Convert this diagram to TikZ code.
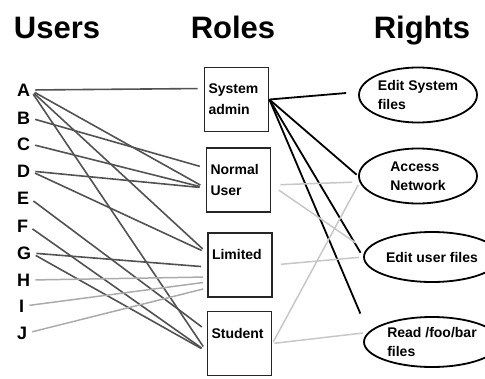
\documentclass[tikz,border=0pt]{standalone}
\usepackage{fontspec}
\setmainfont{Liberation Sans}
\usepackage{tikz}
\usetikzlibrary{shapes.geometric, positioning}
\tikzstyle{headline} = [font=\bfseries\fontsize{31}{31}\selectfont, anchor=base, inner sep=0pt]
\tikzstyle{userletter} = [font=\bfseries\fontsize{18}{18}\selectfont, anchor=west, inner sep=0pt]
\tikzstyle{rolebox} = [rectangle, minimum width=64pt, minimum height=64pt, text width=56pt, inner xsep=4pt, align=left, draw=black!85, line width=1.8pt, font=\bfseries\fontsize{14}{21}\selectfont]
\tikzstyle{rightoval} = [ellipse, minimum width=118pt, minimum height=55pt, inner sep=1.5pt, align=left, draw=black, line width=1.8pt, font=\bfseries\fontsize{14}{19}\selectfont]
\tikzstyle{userlink} = [line width=1.6pt, draw=black!68, shorten <=5pt, shorten >=6pt]
\tikzstyle{guestlink} = [line width=1.5pt, draw=black!33, shorten <=5pt, shorten >=4pt]
\tikzstyle{adminlink} = [line width=1.8pt, draw=black]
\tikzstyle{greylink} = [line width=1.5pt, draw=black!22]
\begin{document}
\begin{tikzpicture}[x=1pt, y=-1pt]
        \useasboundingbox (0,0) rectangle (485,378);
        \clip (0,0) rectangle (485,378);

        \node (usershead) [headline] at (57,38) {Users};
        \node (roleshead) [headline] at (233,38) {Roles};
        \node (rightshead) [headline] at (422,38) {Rights};

        \node (A) [userletter] at (17,90) {A};
        \node (B) [userletter] at (17,118) {B};
        \node (C) [userletter] at (17,144) {C};
        \node (D) [userletter] at (17,171) {D};
        \node (E) [userletter] at (17,198) {E};
        \node (F) [userletter] at (17,226) {F};
        \node (G) [userletter] at (17,253) {G};
        \node (H) [userletter] at (17,280) {H};
        \node (I) [userletter] at (19,306) {I};
        \node (J) [userletter] at (17,333) {J};

        \node (sysadmin) [rolebox] at (236.5,99.5) {System\\admin};
        \node (normaluser) [rolebox] at (238.5,180) {Normal\\User};
        \node (limited) [rolebox] at (240,265) {Limited\\~};
        \node (student) [rolebox] at (239.5,343.5) {Student\\~};

        \node (editsys) [rightoval] at (418,95) {Edit System\\files};
        \node (access) [rightoval] at (418,176) {Access\\Network};
        \node (edituser) [rightoval, minimum width=136pt, minimum height=50pt] at (432,257) {Edit user files};
        \node (readfoo) [rightoval, minimum width=136pt, minimum height=50pt] at (432,342) {Read /foo/bar\\files};

        \draw [userlink] (A.east) -- ([yshift=11pt]sysadmin.west);
        \draw [userlink] (A.east) -- ([yshift=-8pt]normaluser.west);
        \draw [userlink] (A.east) -- ([yshift=12pt]limited.west);
        \draw [userlink] (A.east) -- ([yshift=-8pt]student.west);
        \draw [userlink] (B.east) -- ([yshift=12pt]normaluser.west);
        \draw [userlink] (C.east) -- ([yshift=-8pt]normaluser.west);
        \draw [userlink] (D.east) -- ([yshift=-8pt]normaluser.west);
        \draw [userlink] (D.east) -- ([yshift=12pt]limited.west);
        \draw [userlink] (E.east) -- ([yshift=13pt]student.west);
        \draw [userlink] (F.east) -- ([yshift=-8pt]student.west);
        \draw [userlink] (G.east) -- ([yshift=-2pt]limited.west);
        \draw [userlink] (G.east) -- ([yshift=-8pt]student.west);
        \draw [guestlink] (H.east) -- ([yshift=-12pt]limited.west);
        \draw [guestlink] (I.east) -- ([yshift=-17pt]limited.west);
        \draw [guestlink] (J.east) -- ([yshift=-23pt]limited.west);

        \draw [adminlink, shorten >=12pt] (sysadmin.east) -- ([yshift=3pt]editsys.west);
        \draw [adminlink, shorten >=2pt] (sysadmin.east) -- (access.west);
        \draw [adminlink, shorten >=5pt] (sysadmin.east) -- (edituser.west);
        \draw [adminlink, shorten >=7pt] (sysadmin.east) -- ([yshift=22pt]readfoo.west);

        \draw [greylink, shorten <=9pt, shorten >=6pt] ([yshift=-5pt]normaluser.east) -- ([yshift=-6pt]access.west);
        \draw [greylink, shorten <=9pt, shorten >=9pt] ([yshift=-5pt]normaluser.east) -- ([yshift=9pt]edituser.west);
        \draw [greylink, shorten <=8pt, shorten >=4pt] (limited.east) -- (edituser.west);
        \draw [greylink, shorten <=2pt] (student.east) -- ([yshift=-9pt]access.west);
        \draw [greylink, shorten <=2pt] (student.east) -- ([yshift=9pt]readfoo.west);

      \end{tikzpicture}
\end{document}
